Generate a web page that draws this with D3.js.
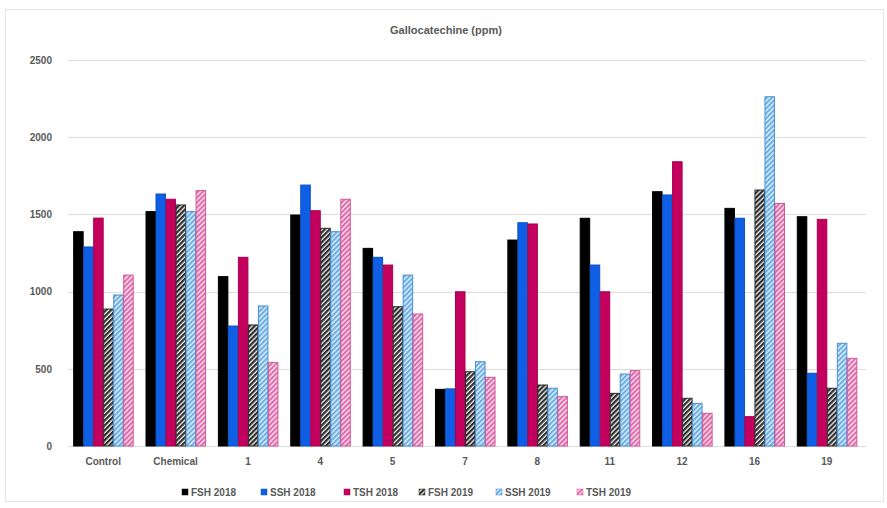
<!DOCTYPE html>
<html>
<head>
<meta charset="utf-8">
<script src="https://cdn.jsdelivr.net/npm/d3@7"></script>
<style>
  html, body { margin: 0; padding: 0; background: #fff; }
  svg { display: block; font-family: "Liberation Sans", Arial, sans-serif; }
</style>
</head>
<body>
<svg id="chart" width="887" height="508"></svg>
<script>
const categories = ["Control", "Chemical", "1", "4", "5", "7", "8", "11", "12", "16", "19"];
const seriesNames = ["FSH 2018", "SSH 2018", "TSH 2018", "FSH 2019", "SSH 2019", "TSH 2019"];
const fsh2018 = [1388, 1518, 1097, 1496, 1280, 367, 1334, 1475, 1647, 1539, 1485];
const ssh2018 = [1289, 1632, 777, 1690, 1222, 370, 1446, 1172, 1626, 1475, 471];
const tsh2018 = [1476, 1598, 1222, 1524, 1172, 999, 1438, 999, 1841, 190, 1468];
const fsh2019 = [887, 1561, 784, 1410, 902, 481, 395, 341, 309, 1658, 374];
const ssh2019 = [978, 1518, 907, 1388, 1107, 546, 374, 466, 276, 2262, 665];
const tsh2019 = [1107, 1654, 540, 1598, 855, 445, 320, 488, 212, 1571, 568];
const yTicks = [0, 500, 1000, 1500, 2000, 2500];
const title = "Gallocatechine (ppm)";

const seriesValues = [fsh2018, ssh2018, tsh2018, fsh2019, ssh2019, tsh2019];

const svg = d3.select("#chart");
const defs = svg.append("defs");

const patternSpecs = [
  { id: "p-fsh19", stripe: "#2e2e2e", bg: "#f4f4f4" },
  { id: "p-ssh19", stripe: "#6aaee6", bg: "#eef6fd" },
  { id: "p-tsh19", stripe: "#e26aaa", bg: "#fdf0f6" }
];
patternSpecs.forEach(p => {
  const pat = defs.append("pattern")
    .attr("id", p.id)
    .attr("patternUnits", "userSpaceOnUse")
    .attr("width", 3.5).attr("height", 3.5)
    .attr("patternTransform", "rotate(45)");
  pat.append("rect").attr("width", 3.5).attr("height", 3.5).attr("fill", p.bg);
  pat.append("rect").attr("width", 2.2).attr("height", 3.5).attr("fill", p.stripe);
});

const fills = ["#000000", "#0f5fe6", "#c4005e", "url(#p-fsh19)", "url(#p-ssh19)", "url(#p-tsh19)"];
const strokes = ["#000000", "#0b4fc4", "#a8004f", "#2a2a2a", "#4a8fd0", "#d0579a"];

svg.append("rect")
  .attr("x", 5.5).attr("y", 9.5).attr("width", 878).attr("height", 492)
  .attr("fill", "none").attr("stroke", "#e6e6e6");

const x = d3.scaleBand().domain(categories).range([67, 863]).paddingInner(0.17).paddingOuter(0.085);
const xs = d3.scaleBand().domain(seriesNames).range([0, x.bandwidth()]).padding(0);
const y = d3.scaleLinear().domain([0, 2500]).range([446, 60]);

svg.append("g")
  .selectAll("line")
  .data(yTicks)
  .join("line")
  .attr("x1", 68).attr("x2", 866)
  .attr("y1", d => Math.round(y(d)) + 0.5)
  .attr("y2", d => Math.round(y(d)) + 0.5)
  .attr("stroke", "#dcdcdc").attr("stroke-width", 1);

const yAxis = d3.axisLeft(y).tickValues(yTicks).tickFormat(d3.format("d")).tickSize(0).tickPadding(0);
const yg = svg.append("g").attr("transform", "translate(52,0)").call(yAxis);
yg.select(".domain").remove();
yg.selectAll("text")
  .attr("fill", "#595959").attr("font-size", 10).attr("font-weight", "bold");

const groups = svg.append("g").selectAll("g")
  .data(categories)
  .join("g")
  .attr("transform", d => `translate(${x(d)},0)`);

groups.selectAll("rect")
  .data((c, ci) => seriesNames.map((s, si) => ({ s, si, v: seriesValues[si][ci] })))
  .join("rect")
  .attr("x", d => xs(d.s) + 0.5)
  .attr("width", xs.bandwidth() - 0.5)
  .attr("y", d => y(d.v))
  .attr("height", d => y(0) - y(d.v))
  .attr("fill", d => fills[d.si])
  .attr("stroke", d => strokes[d.si])
  .attr("stroke-width", 1);

const xAxis = d3.axisBottom(x).tickSize(0).tickPadding(0);
const xg = svg.append("g").attr("transform", "translate(0,458)").call(xAxis);
xg.select(".domain").remove();
xg.selectAll("text")
  .attr("fill", "#595959").attr("font-size", 10).attr("font-weight", "bold");

svg.append("text")
  .attr("x", 446).attr("y", 34)
  .attr("text-anchor", "middle")
  .attr("fill", "#595959").attr("font-size", 11).attr("font-weight", "bold")
  .text(title);

const legendX = [182, 261, 344, 419, 496, 577];
const lg = svg.append("g").selectAll("g")
  .data(seriesNames)
  .join("g")
  .attr("transform", (d, i) => `translate(${legendX[i]},493)`);
lg.append("rect")
  .attr("x", 0).attr("y", -4).attr("width", 6).attr("height", 6)
  .attr("fill", (d, i) => fills[i])
  .attr("stroke", (d, i) => strokes[i]).attr("stroke-width", 0.5);
lg.append("text")
  .attr("x", 9).attr("y", 3)
  .attr("fill", "#595959").attr("font-size", 10).attr("font-weight", "bold")
  .text(d => d);
</script>
</body>
</html>
